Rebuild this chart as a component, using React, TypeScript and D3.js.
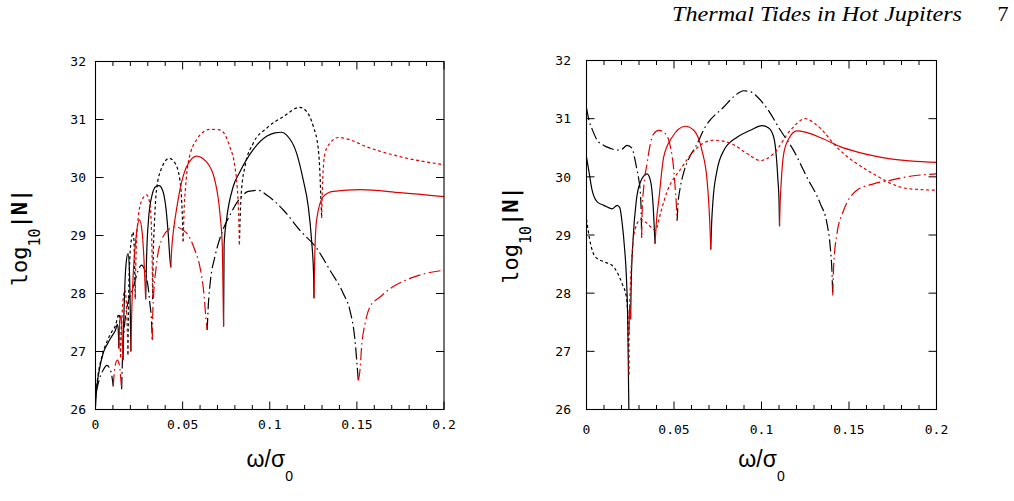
import * as d3 from 'd3';
import { useRef, useEffect } from 'react';

type Pt = [number, number];
// c: 'k' for negative lobes (black), 'r' for positive lobes (red)
type Lobe = { c: 'k' | 'r'; pts: Pt[] };

const xTicks = [0, 0.05, 0.1, 0.15, 0.2];
const xTickLabels = ['0', '0.05', '0.1', '0.15', '0.2'];
const xMinor = [0.01, 0.02, 0.03, 0.04, 0.06, 0.07, 0.08, 0.09, 0.11, 0.12, 0.13, 0.14, 0.16, 0.17, 0.18, 0.19];
const yTicks = [26, 27, 28, 29, 30, 31, 32];

// ---- left panel ----
const leftSolid: Lobe[] = [
  { c: 'k', pts: [[0, 26.05], [0.0008, 26.4], [0.002, 26.65], [0.0044, 26.97], [0.007, 27.14], [0.0095, 27.27], [0.0115, 27.37], [0.0125, 27.47], [0.013, 27.4], [0.0134, 27.05]] },
  { c: 'r', pts: [[0.0134, 27.05], [0.0138, 27.45], [0.0144, 27.62], [0.015, 27.5], [0.0155, 27.1], [0.0158, 26.85]] },
  { c: 'k', pts: [[0.0158, 26.85], [0.0162, 27.5], [0.0168, 28.1], [0.0175, 28.5], [0.0187, 28.69], [0.0194, 28.45], [0.0199, 27.8], [0.0203, 27.0]] },
  { c: 'r', pts: [[0.0203, 27.0], [0.0208, 27.7], [0.0216, 28.3], [0.0232, 28.95], [0.0252, 29.27], [0.0268, 29.05], [0.0278, 28.6], [0.0288, 27.9]] },
  { c: 'k', pts: [[0.0288, 27.9], [0.0293, 28.6], [0.0305, 29.3], [0.0325, 29.7], [0.0345, 29.84], [0.0364, 29.86], [0.0385, 29.78], [0.0405, 29.45], [0.0418, 29.0], [0.0427, 28.6], [0.0432, 28.45]] },
  { c: 'r', pts: [[0.0432, 28.45], [0.0437, 28.75], [0.0448, 29.1], [0.0465, 29.45], [0.0484, 29.78], [0.0522, 30.18], [0.058, 30.37], [0.0637, 30.27], [0.0685, 29.95], [0.0714, 29.38], [0.0728, 28.8], [0.0735, 27.43]] },
  { c: 'k', pts: [[0.0735, 27.43], [0.0738, 28.84], [0.0752, 29.27], [0.079, 29.84], [0.0829, 30.1], [0.0905, 30.48], [0.0982, 30.71], [0.103, 30.77], [0.107, 30.78], [0.1097, 30.73], [0.1154, 30.42], [0.1192, 29.96], [0.1221, 29.5], [0.124, 28.92], [0.1252, 28.3], [0.1254, 27.92]] },
  { c: 'r', pts: [[0.1254, 27.92], [0.1258, 28.6], [0.1269, 29.27], [0.1307, 29.67], [0.1364, 29.76], [0.1518, 29.79], [0.1747, 29.74], [0.2, 29.67]] },
];

const leftDotted: Lobe[] = [
  { c: 'k', pts: [[0, 26.2], [0.0015, 26.6], [0.004, 26.95], [0.007, 27.2], [0.0095, 27.35], [0.0115, 27.45], [0.013, 27.62], [0.0136, 27.65], [0.014, 27.3], [0.0144, 26.9]] },
  { c: 'r', pts: [[0.0144, 26.9], [0.0152, 27.6], [0.016, 27.95], [0.0168, 28.06], [0.0176, 27.9], [0.0182, 27.4], [0.0186, 26.95]] },
  { c: 'k', pts: [[0.0186, 26.95], [0.019, 27.9], [0.0197, 28.6], [0.0207, 28.95], [0.0215, 29.06], [0.0221, 28.9], [0.0225, 28.4], [0.0228, 27.9]] },
  { c: 'r', pts: [[0.0228, 27.9], [0.0232, 28.6], [0.0245, 29.3], [0.0265, 29.6], [0.0293, 29.7], [0.0312, 29.55], [0.032, 29.2], [0.0325, 28.6], [0.0328, 27.9]] },
  { c: 'k', pts: [[0.0328, 27.9], [0.0331, 28.6], [0.0338, 29.2], [0.035, 29.78], [0.0379, 30.16], [0.0423, 30.33], [0.0456, 30.25], [0.0484, 29.96], [0.0497, 29.45], [0.0503, 28.9]] },
  { c: 'r', pts: [[0.0503, 28.9], [0.0508, 29.4], [0.0517, 29.84], [0.0532, 30.25], [0.058, 30.65], [0.0657, 30.83], [0.0714, 30.82], [0.0771, 30.53], [0.08, 30.19], [0.0813, 29.84], [0.0821, 29.4], [0.0826, 28.85]] },
  { c: 'k', pts: [[0.0826, 28.85], [0.083, 29.3], [0.0838, 29.78], [0.0858, 30.19], [0.0905, 30.59], [0.0982, 30.85], [0.1078, 31.05], [0.1173, 31.21], [0.1211, 31.14], [0.125, 30.88], [0.1279, 30.48], [0.1288, 30.07], [0.1294, 29.6], [0.1298, 29.3]] },
  { c: 'r', pts: [[0.1298, 29.3], [0.1303, 29.9], [0.1317, 30.42], [0.1345, 30.59], [0.1393, 30.69], [0.146, 30.65], [0.1556, 30.53], [0.1747, 30.36], [0.2, 30.22]] },
];

const leftDashDot: Lobe[] = [
  { c: 'k', pts: [[0.0004, 26.3], [0.002, 26.5], [0.0044, 26.68], [0.0065, 26.76], [0.0088, 26.66], [0.0102, 26.4]] },
  { c: 'r', pts: [[0.0102, 26.4], [0.011, 26.7], [0.0125, 26.85], [0.0138, 26.75], [0.0146, 26.5], [0.015, 26.35]] },
  { c: 'k', pts: [[0.015, 26.35], [0.0155, 26.9], [0.0165, 27.4], [0.018, 27.75], [0.0197, 27.95], [0.0216, 28.1], [0.0245, 28.4], [0.0264, 28.49], [0.0283, 28.4], [0.0302, 28.11], [0.0312, 27.83], [0.0322, 27.5], [0.0326, 27.2]] },
  { c: 'r', pts: [[0.0326, 27.2], [0.0329, 27.7], [0.035, 28.5], [0.0379, 28.92], [0.0427, 29.12], [0.0456, 29.15], [0.0523, 29.04], [0.057, 28.75], [0.0599, 28.46], [0.0622, 28.0], [0.0633, 27.6], [0.0641, 27.37]] },
  { c: 'k', pts: [[0.0641, 27.37], [0.0647, 27.77], [0.066, 28.23], [0.0685, 28.63], [0.0724, 29.04], [0.0771, 29.35], [0.0829, 29.64], [0.0877, 29.76], [0.0934, 29.78], [0.0982, 29.7], [0.1078, 29.44], [0.1173, 29.09], [0.1269, 28.78], [0.1346, 28.4], [0.1422, 28.0], [0.146, 27.71], [0.1489, 27.2], [0.1499, 26.85], [0.1508, 26.5]] },
  { c: 'r', pts: [[0.1508, 26.5], [0.1518, 26.68], [0.1527, 27.08], [0.1547, 27.48], [0.1575, 27.77], [0.1633, 27.94], [0.1709, 28.12], [0.1805, 28.26], [0.19, 28.35], [0.2, 28.4]] },
];

// ---- right panel ----
const rightSolid: Lobe[] = [
  { c: 'k', pts: [[0, 30.34], [0.0013, 30.11], [0.0032, 29.77], [0.0061, 29.57], [0.0099, 29.51], [0.0146, 29.45], [0.0175, 29.51], [0.019, 29.47], [0.0204, 29.2], [0.0217, 28.79], [0.0228, 28.28], [0.0236, 27.48], [0.0242, 26.0]] },
  { c: 'r', pts: [[0.0243, 27.3], [0.0245, 27.65], [0.0247, 27.8], [0.025, 27.75], [0.0252, 27.55]] },
  { c: 'k', pts: [[0.0252, 27.55], [0.0255, 28.1], [0.0266, 28.91], [0.0285, 29.6], [0.0308, 29.91], [0.0346, 30.05], [0.0365, 29.94], [0.038, 29.54], [0.0388, 29.08], [0.0392, 28.85]] },
  { c: 'r', pts: [[0.0392, 28.85], [0.04, 29.25], [0.0413, 29.6], [0.0441, 30.34], [0.0489, 30.68], [0.0565, 30.87], [0.0613, 30.8], [0.066, 30.45], [0.0689, 29.94], [0.07, 29.48], [0.0706, 29.1], [0.071, 28.75]] },
  { c: 'k', pts: [[0.071, 28.75], [0.0715, 29.2], [0.0723, 29.6], [0.0746, 30.11], [0.0784, 30.45], [0.086, 30.68], [0.0936, 30.8], [0.1003, 30.88], [0.1041, 30.84], [0.107, 30.68], [0.1085, 30.34], [0.1094, 29.94], [0.11, 29.6], [0.1103, 29.15]] },
  { c: 'r', pts: [[0.1103, 29.15], [0.1106, 29.5], [0.1111, 29.82], [0.1127, 30.4], [0.1155, 30.65], [0.1203, 30.79], [0.125, 30.77], [0.1355, 30.65], [0.145, 30.52], [0.1545, 30.43], [0.1736, 30.31], [0.2, 30.25]] },
];

const rightDotted: Lobe[] = [
  { c: 'k', pts: [[0, 29.27], [0.0023, 28.85], [0.0051, 28.62], [0.0099, 28.54], [0.0146, 28.48], [0.0175, 28.36], [0.0204, 28.16], [0.0228, 27.93], [0.0237, 27.5], [0.0242, 26.6]] },
  { c: 'r', pts: [[0.0242, 26.6], [0.0244, 27.4], [0.0248, 27.9], [0.0255, 28.4], [0.0265, 28.85], [0.028, 29.12], [0.031, 29.27], [0.0346, 29.2], [0.0394, 29.08], [0.0425, 29.4], [0.0461, 29.75], [0.0537, 30.13], [0.0632, 30.5], [0.0727, 30.63], [0.0822, 30.58], [0.0917, 30.4], [0.0993, 30.28], [0.107, 30.4], [0.1165, 30.8], [0.125, 31.0], [0.1307, 30.91], [0.145, 30.45], [0.164, 30.05], [0.183, 29.8], [0.2, 29.77]] },
];

const rightDashDot: Lobe[] = [
  { c: 'k', pts: [[0, 31.18], [0.0016, 30.95], [0.0032, 30.82], [0.0061, 30.63], [0.0099, 30.54], [0.0137, 30.49], [0.0175, 30.46], [0.02, 30.47], [0.0232, 30.54], [0.0261, 30.49], [0.0274, 30.34], [0.0289, 30.11], [0.0299, 29.95], [0.0308, 29.71], [0.0312, 29.45], [0.0315, 28.95]] },
  { c: 'r', pts: [[0.0315, 28.95], [0.0318, 29.4], [0.0327, 29.82], [0.0346, 30.23], [0.0365, 30.57], [0.0384, 30.74], [0.0413, 30.8], [0.0451, 30.74], [0.048, 30.51], [0.0499, 30.11], [0.0507, 29.8], [0.0512, 29.6], [0.0518, 29.25]] },
  { c: 'k', pts: [[0.0518, 29.25], [0.0522, 29.5], [0.0536, 29.82], [0.0556, 30.08], [0.0594, 30.37], [0.0622, 30.51], [0.0679, 30.86], [0.0784, 31.2], [0.085, 31.4], [0.0898, 31.48], [0.094, 31.46], [0.0974, 31.38], [0.1031, 31.18], [0.1108, 30.8], [0.1184, 30.45], [0.126, 29.99], [0.1336, 29.54], [0.1374, 29.2], [0.1393, 28.79], [0.1403, 28.34], [0.1407, 27.96]] },
  { c: 'r', pts: [[0.1407, 27.96], [0.1412, 28.45], [0.1431, 29.02], [0.1469, 29.42], [0.1545, 29.77], [0.164, 29.88], [0.1736, 29.94], [0.185, 30.01], [0.2, 30.05]] },
];

const colors = { k: '#000000', r: '#e00000' };
const monoFont = '"DejaVu Sans Mono", monospace';

const panels = [
  { id: 'a', x0: 95.5, x1: 444, y0: 61.5, y1: 409.5, yLabX: 86, xLabY: 428.5, titleX: 26.5, titleY: 237.5, solid: leftSolid, dotted: leftDotted, dashdot: leftDashDot },
  { id: 'b', x0: 586.5, x1: 936.5, y0: 60.5, y1: 409.5, yLabX: 571, xLabY: 433.5, titleX: 518, titleY: 235, solid: rightSolid, dotted: rightDotted, dashdot: rightDashDot },
];

function drawPanel(svg: any, p: any) {
  const x = d3.scaleLinear().domain([0, 0.2]).range([p.x0, p.x1]);
  const y = d3.scaleLinear().domain([26, 32]).range([p.y1, p.y0]);

  svg.append('clipPath').attr('id', `clip-${p.id}`)
    .append('rect')
    .attr('x', p.x0).attr('y', p.y0)
    .attr('width', p.x1 - p.x0).attr('height', p.y1 - p.y0);

  const line = d3.line<Pt>()
    .x(d => x(d[0]))
    .y(d => y(d[1]))
    .curve(d3.curveMonotoneX);

  const styles = [
    { lobes: p.solid, dash: null },
    { lobes: p.dotted, dash: '3,2.6' },
    { lobes: p.dashdot, dash: '12,3.5,1.6,3.5' },
  ];

  const curves = svg.append('g').attr('clip-path', `url(#clip-${p.id})`);
  // black lobes underneath, red lobes on top
  for (const c of ['k', 'r']) {
    for (const s of styles) {
      s.lobes.filter((l: Lobe) => l.c === c).forEach((l: Lobe) => {
        curves.append('path')
          .datum(l.pts)
          .attr('fill', 'none')
          .attr('stroke', colors[c as 'k' | 'r'])
          .attr('stroke-width', 1.2)
          .attr('stroke-dasharray', s.dash)
          .attr('d', line);
      });
    }
  }

  // frame
  svg.append('rect')
    .attr('x', p.x0).attr('y', p.y0)
    .attr('width', p.x1 - p.x0).attr('height', p.y1 - p.y0)
    .attr('fill', 'none').attr('stroke', '#000').attr('stroke-width', 1.1);

  const ticks = svg.append('g').attr('stroke', '#000').attr('stroke-width', 1);
  const xt = [...xTicks.map(v => ({ v, len: 8 })), ...xMinor.map(v => ({ v, len: 4.5 }))];
  xt.forEach(t => {
    ticks.append('line').attr('x1', x(t.v)).attr('x2', x(t.v)).attr('y1', p.y1).attr('y2', p.y1 - t.len);
    ticks.append('line').attr('x1', x(t.v)).attr('x2', x(t.v)).attr('y1', p.y0).attr('y2', p.y0 + t.len);
  });
  yTicks.forEach(v => {
    ticks.append('line').attr('x1', p.x0).attr('x2', p.x0 + 8).attr('y1', y(v)).attr('y2', y(v));
    ticks.append('line').attr('x1', p.x1).attr('x2', p.x1 - 8).attr('y1', y(v)).attr('y2', y(v));
  });

  svg.append('g').selectAll('text')
    .data(xTicks)
    .enter().append('text')
    .attr('x', (d: number) => x(d))
    .attr('y', p.xLabY)
    .attr('text-anchor', 'middle')
    .style('font-family', monoFont)
    .style('font-size', '13px')
    .text((d: number, i: number) => xTickLabels[i]);

  svg.append('g').selectAll('text')
    .data(yTicks)
    .enter().append('text')
    .attr('x', p.yLabX)
    .attr('y', (d: number) => y(d))
    .attr('dy', '0.36em')
    .attr('text-anchor', 'end')
    .style('font-family', monoFont)
    .style('font-size', '13px')
    .text((d: number) => d);

  // y axis title: log10 |N|
  const yt = svg.append('text')
    .attr('transform', `translate(${p.titleX},${p.titleY}) rotate(-90)`)
    .attr('text-anchor', 'middle')
    .style('font-family', monoFont)
    .style('font-size', '22px');
  yt.append('tspan').text('log');
  yt.append('tspan').attr('dy', 13).style('font-size', '15px').text('10');
  yt.append('tspan').attr('dy', -13).style('font-weight', 'bold').text('|N|');

  // x axis title: omega / sigma_0
  const cx = (p.x0 + p.x1) / 2;
  const xtitle = svg.append('text')
    .attr('x', cx)
    .attr('y', 467)
    .attr('text-anchor', 'middle')
    .style('font-family', '"Liberation Sans", Arial, sans-serif')
    .style('font-size', '23px');
  xtitle.append('tspan').text('ω/σ');
  xtitle.append('tspan').attr('dy', 14).style('font-size', '14px').text('0');
}

export default function App() {
  const ref = useRef<SVGSVGElement>(null);

  useEffect(() => {
    const svg = d3.select(ref.current);
    svg.selectAll('*').remove();

    svg.append('rect').attr('width', 1014).attr('height', 501).attr('fill', '#fff');

    // running header
    svg.append('text')
      .attr('x', 672)
      .attr('y', 21)
      .attr('textLength', 290)
      .attr('lengthAdjust', 'spacingAndGlyphs')
      .style('font-family', '"Liberation Serif", "DejaVu Serif", serif')
      .style('font-style', 'italic')
      .style('font-size', '22px')
      .text('Thermal Tides in Hot Jupiters');
    svg.append('text')
      .attr('x', 1003)
      .attr('y', 21)
      .attr('text-anchor', 'middle')
      .style('font-family', '"Liberation Serif", "DejaVu Serif", serif')
      .style('font-size', '22px')
      .text('7');

    panels.forEach(p => drawPanel(svg, p));
  }, []);

  return (
    <svg
      ref={ref}
      width={1014}
      height={501}
      style={{ position: 'absolute', left: 0, top: 0, display: 'block' }}
    ></svg>
  );
}
